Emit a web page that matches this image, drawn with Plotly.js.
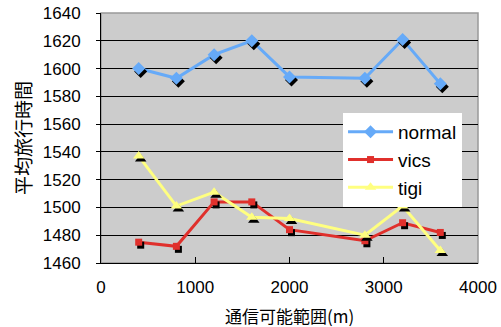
<!DOCTYPE html>
<html><head><meta charset="utf-8">
<script src="https://cdn.plot.ly/plotly-3.0.1.min.js"></script>
<style>
html,body{margin:0;padding:0;background:#fff;}
#chart{width:501px;height:327px;}
.js-plotly-plot .scatterlayer .trace .points path{filter:drop-shadow(2px 3px 0 #000);}
</style>
</head><body><div id="chart"></div>
<script>
const range_m = [400, 800, 1200, 1600, 2000, 2800, 3200, 3600];
const normal = [1600, 1593, 1610, 1620, 1594, 1593, 1621, 1589];
const vics = [1475, 1472, 1504, 1504, 1484, 1476, 1489, 1482];
const tigi = [1537, 1501, 1511, 1493, 1492, 1480, 1501, 1469];
const seriesNames = ['normal', 'vics', 'tigi'];
const tickVals = [0, 1000, 2000, 3000, 4000];
const xTitle = '通信可能範囲(m)';
const yTitle = '平均旅行時間';

const traces = [
  {x: range_m, y: normal, name: seriesNames[0], mode: 'lines+markers',
   line: {color: '#66aaf8', width: 3}, marker: {symbol: 'diamond', size: 10, color: '#66aaf8'}},
  {x: range_m, y: vics, name: seriesNames[1], mode: 'lines+markers',
   line: {color: '#e0302c', width: 3}, marker: {symbol: 'square', size: 7, color: '#e0302c'}},
  {x: range_m, y: tigi, name: seriesNames[2], mode: 'lines+markers',
   line: {color: '#ffff80', width: 3}, marker: {symbol: 'triangle-up', size: 10, color: '#ffff80'}}
];

const cjk = 'Noto Sans CJK JP, Liberation Sans, sans-serif';
const layout = {
  width: 501, height: 327,
  margin: {l: 101, r: 23, t: 13, b: 64},
  paper_bgcolor: '#ffffff', plot_bgcolor: '#cccccc',
  font: {family: 'Liberation Sans, Arial, sans-serif', size: 17, color: '#000'},
  showlegend: true,
  legend: {x: 0.642, y: 0.6, xanchor: 'left', yanchor: 'top', bgcolor: '#ffffff',
           borderwidth: 0, font: {size: 19}, tracegroupgap: 0, itemwidth: 45},
  xaxis: {range: [0, 4000], tickvals: tickVals, ticks: 'inside', ticklen: 6, tickcolor: '#000',
          showgrid: false, zeroline: false, showline: true, linecolor: '#000', linewidth: 1,
          mirror: false, ticklabelstandoff: 9},
  yaxis: {range: [1460, 1640], dtick: 20, ticks: 'outside', ticklen: 4, tickcolor: '#000',
          showgrid: true, gridcolor: '#000', gridwidth: 1, zeroline: false,
          showline: true, linecolor: '#000', linewidth: 1, ticklabelstandoff: 12,
          title: {text: yTitle, standoff: 6, font: {family: cjk, size: 19}}},
  annotations: [{text: xTitle, xref: 'paper', yref: 'paper', x: 0.5, y: -0.208,
                 xanchor: 'center', yanchor: 'middle', showarrow: false,
                 font: {family: cjk, size: 17, color: '#000'}}],
  shapes: [{type: 'rect', xref: 'paper', yref: 'paper', x0: 0, x1: 1, y0: 0, y1: 1,
            line: {color: '#999999', width: 1.5}, fillcolor: 'rgba(0,0,0,0)', layer: 'below'}]
};

Plotly.newPlot('chart', traces, layout, {displayModeBar: false, staticPlot: true});
</script>
</body></html>
